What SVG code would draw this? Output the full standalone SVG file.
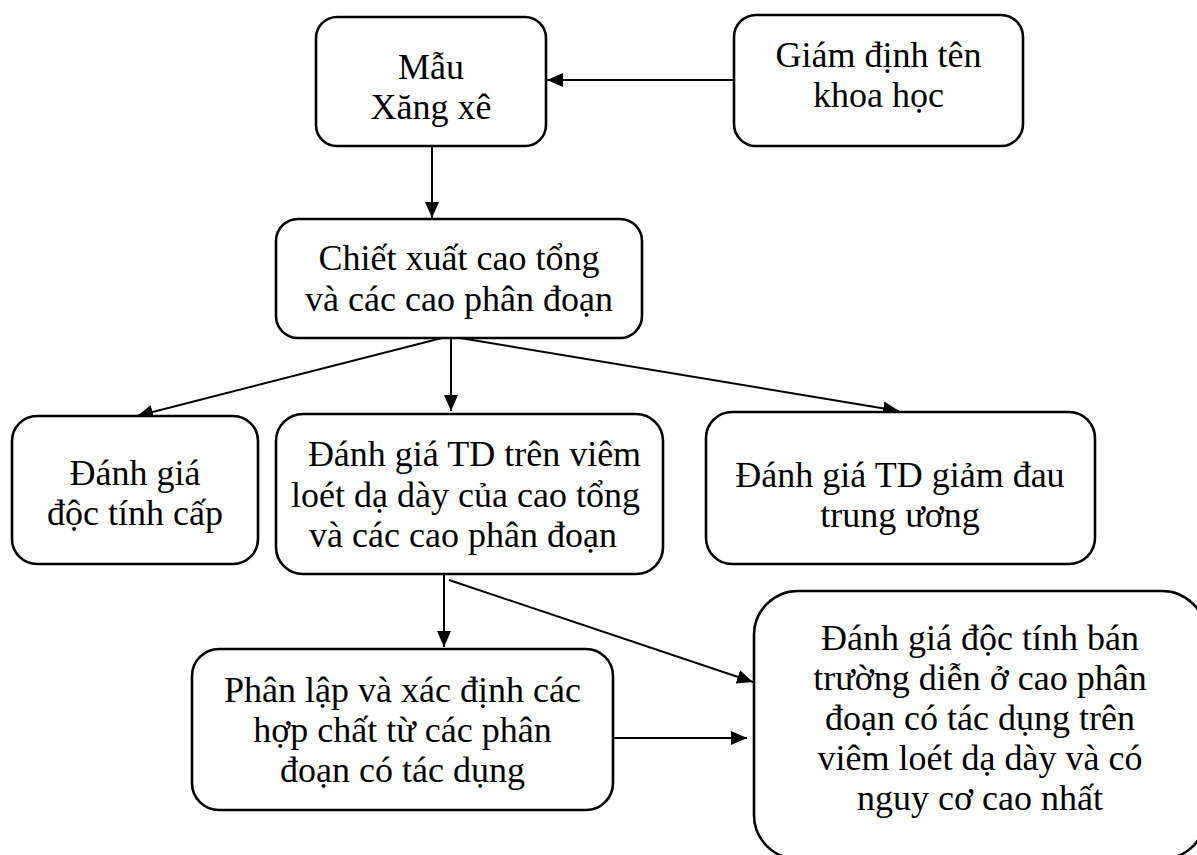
<svg xmlns="http://www.w3.org/2000/svg" width="1197" height="855" viewBox="0 0 1197 855">
<style>
.box{fill:#fff;stroke:#000;stroke-width:2.6}
.t{font-family:"Liberation Serif","Times New Roman",serif;font-size:36px;fill:#000;text-anchor:middle}
.c{stroke:#000;stroke-width:2;fill:none;marker-end:url(#ah)}
</style>
<defs>
<marker id="ah" markerUnits="userSpaceOnUse" markerWidth="17" markerHeight="14" refX="16" refY="7" orient="auto">
<path d="M0,0 L16,7 L0,14 z" fill="#000"/>
</marker>
</defs>
<rect width="1197" height="855" fill="#fff"/>
<g id="connectors">
<line class="c" x1="734" y1="80" x2="547" y2="80"/>
<line class="c" x1="432" y1="146" x2="432" y2="218"/>
<line class="c" x1="442" y1="338" x2="137" y2="416"/>
<line class="c" x1="451" y1="338" x2="451" y2="411"/>
<line class="c" x1="460" y1="338" x2="899" y2="411"/>
<line class="c" x1="444" y1="574" x2="444" y2="647"/>
<line class="c" x1="449" y1="580" x2="753" y2="682"/>
<line class="c" x1="613" y1="738" x2="747" y2="738"/>
</g>
<g id="n-mau">
<rect class="box" x="316" y="17" width="230" height="129" rx="21"/>
<text class="t" x="431" y="79">Mẫu</text>
<text class="t" x="431" y="119">Xăng xê</text>
</g>
<g id="n-giam-dinh">
<rect class="box" x="734" y="15" width="289" height="131" rx="22"/>
<text class="t" x="878.5" y="67">Giám định tên</text>
<text class="t" x="878.5" y="107">khoa học</text>
</g>
<g id="n-chiet-xuat">
<rect class="box" x="276" y="219" width="366" height="119" rx="22"/>
<text class="t" x="459" y="270">Chiết xuất cao tổng</text>
<text class="t" x="459" y="311">và các cao phân đoạn</text>
</g>
<g id="n-doc-tinh-cap">
<rect class="box" x="12" y="416" width="246" height="148" rx="25"/>
<text class="t" x="135" y="485">Đánh giá</text>
<text class="t" x="135" y="525">độc tính cấp</text>
</g>
<g id="n-viem-loet">
<rect class="box" x="276" y="414" width="387" height="160" rx="27"/>
<text class="t" x="474.5" y="466">Đánh giá TD trên viêm</text>
<text class="t" x="465.5" y="506.5">loét dạ dày của cao tổng</text>
<text class="t" x="463" y="546.5">và các cao phân đoạn</text>
</g>
<g id="n-giam-dau">
<rect class="box" x="706" y="412" width="389" height="152" rx="26"/>
<text class="t" x="900" y="486.5">Đánh giá TD giảm đau</text>
<text class="t" x="900" y="526.5">trung ương</text>
</g>
<g id="n-phan-lap">
<rect class="box" x="192" y="649" width="421" height="161" rx="27"/>
<text class="t" x="402.5" y="701.5">Phân lập và xác định các</text>
<text class="t" x="402.5" y="742">hợp chất từ các phân</text>
<text class="t" x="402.5" y="782">đoạn có tác dụng</text>
</g>
<g id="n-ban-truong-dien">
<rect class="box" x="754" y="591" width="452" height="268" rx="44"/>
<text class="t" x="980" y="649.5">Đánh giá độc tính bán</text>
<text class="t" x="980" y="689.5">trường diễn ở cao phân</text>
<text class="t" x="980" y="729.5">đoạn có tác dụng trên</text>
<text class="t" x="980" y="769.5">viêm loét dạ dày và có</text>
<text class="t" x="980" y="809.5">nguy cơ cao nhất</text>
</g>
</svg>
